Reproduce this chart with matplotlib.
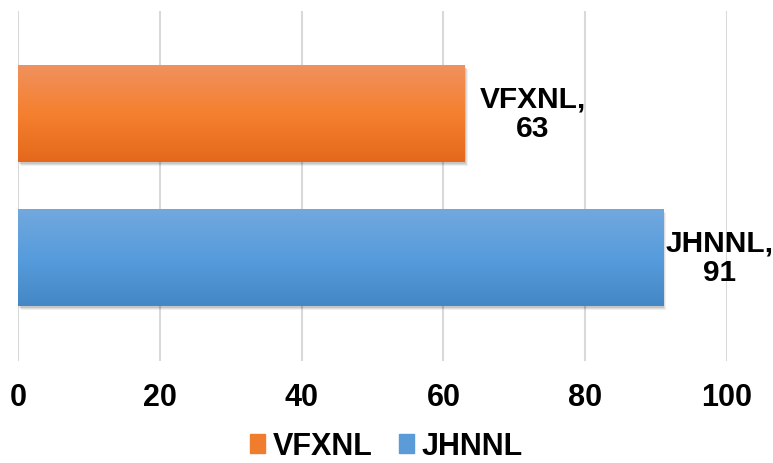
import numpy as np
import matplotlib.pyplot as plt
import matplotlib.transforms as mtransforms
from matplotlib.colors import LinearSegmentedColormap

plt.rcParams['font.family'] = ['Liberation Sans', 'DejaVu Sans']

# data (bottom to top)
categories = ["JHNNL", "VFXNL"]
values = [91, 63]
grad_colors = [["#4487C7", "#579CDC", "#72A8DE"],
               ["#E4681B", "#F5802F", "#F0915E"]]
legend_colors = ["#5A9BD8", "#F07C2E"]
label_offsets = [1.5, 11]  # points right of bar end

fig = plt.figure(figsize=(7.73, 4.64), dpi=100)
ax = fig.add_axes([18 / 773, 1 - 362 / 464, (727 - 18) / 773, 350 / 464])

ypos = np.arange(len(categories))
bar_h = 0.67
bars = ax.barh(ypos, values, height=bar_h, color="none", zorder=3)

for i, b in enumerate(bars):
    x0, y0 = b.get_x(), b.get_y()
    w, h = b.get_width(), b.get_height()
    # soft shadow
    for k, a in enumerate([0.10, 0.08, 0.06]):
        off = mtransforms.offset_copy(ax.transData, fig=fig, x=1 + k, y=-(2 + k), units="dots")
        ax.add_patch(plt.Rectangle((x0, y0), w, h, color="black", alpha=a,
                                   transform=off, zorder=2, lw=0))
    cmap = LinearSegmentedColormap.from_list("g", grad_colors[i])
    grad = np.linspace(0, 1, 256).reshape(-1, 1)
    im = ax.imshow(grad, cmap=cmap, aspect="auto", origin="lower",
                   extent=[x0, x0 + w, y0, y0 + h], zorder=3)
    im.set_clip_path(b)
    ax.annotate(f"{categories[i]},\n{values[i]}", xy=(values[i], ypos[i]),
                xytext=(label_offsets[i], 0), textcoords="offset points",
                ha="left", va="center", multialignment="center",
                fontsize=21.5, fontweight="bold", linespacing=1.1, zorder=4)

ax.set_xlim(0, 100)
ax.set_ylim(-0.72, 1.71)
ax.set_xticks(range(0, 101, 20))
ax.set_yticks([])
ax.xaxis.grid(True, color="#D9D9D9", lw=1.5, zorder=0)
ax.set_axisbelow(True)
for s in ax.spines.values():
    s.set_visible(False)
ax.tick_params(axis="x", length=0, pad=15, labelsize=22)
for t in ax.get_xticklabels():
    t.set_fontweight("bold")

handles = [plt.Rectangle((0, 0), 1, 1, color=legend_colors[1]),
           plt.Rectangle((0, 0), 1, 1, color=legend_colors[0])]
fig.legend(handles, ["VFXNL", "JHNNL"], loc="lower center", ncol=2,
           bbox_to_anchor=(0.5, -0.055), frameon=False,
           prop={"weight": "bold", "size": 22},
           handlelength=0.5, handleheight=0.6, handletextpad=0.25, columnspacing=0.85)

fig.savefig("out.png", dpi=100)
